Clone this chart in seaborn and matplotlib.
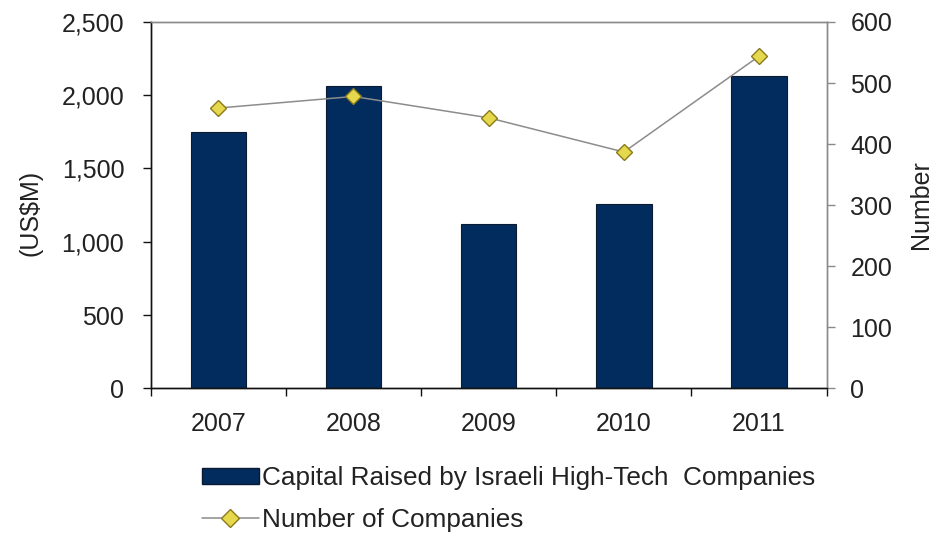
import matplotlib
matplotlib.use("Agg")
import matplotlib.pyplot as plt
from matplotlib.lines import Line2D
from matplotlib.patches import Patch
from matplotlib.ticker import FuncFormatter, FixedLocator, NullFormatter
import seaborn as sns
import pandas as pd

years = ["2007", "2008", "2009", "2010", "2011"]
capital_raised = [1750, 2060, 1120, 1260, 2130]   # US$M
num_companies = [459, 478, 443, 387, 544]

bar_label = "Capital Raised by Israeli High-Tech  Companies"
line_label = "Number of Companies"

sns.set_theme(style="white")
plt.rcParams["font.family"] = ["Liberation Sans", "DejaVu Sans"]

navy = "#032c5e"
yellow = "#e6d84c"
marker_edge = "#8a7a1c"
line_gray = "#8c8c8c"
text_color = "#222222"
fs = 18

df = pd.DataFrame({"year": years, "capital": capital_raised, "companies": num_companies})

fig = plt.figure(figsize=(9.32, 5.36), dpi=100)
ax = fig.add_axes([0.1617, 0.2756, 0.7253, 0.6834])

sns.barplot(data=df, x="year", y="capital", ax=ax, color=navy, saturation=1,
            width=0.41, edgecolor="#0a1a30", linewidth=0.8, zorder=2)
ax.set_ylim(0, 2500)
ax.set_xlim(-0.5, 4.5)
ax.set_yticks([0, 500, 1000, 1500, 2000, 2500])
ax.yaxis.set_major_formatter(FuncFormatter(lambda v, p: f"{int(v):,}"))
ax.set_xlabel("")
ax.set_ylabel("")

ax2 = ax.twinx()
sns.pointplot(data=df, x="year", y="companies", ax=ax2, color=line_gray,
              markers="D", linestyles="-", markersize=8, linewidth=1.1, zorder=3)
for ln in ax2.lines:
    ln.set_markerfacecolor(yellow)
    ln.set_markeredgecolor(marker_edge)
    ln.set_markeredgewidth(1.0)
ax2.set_ylim(0, 600)
ax2.set_xlim(-0.5, 4.5)
ax2.set_yticks([0, 100, 200, 300, 400, 500, 600])
ax2.set_xlabel("")
ax2.set_ylabel("")

# Axis titles
fig.text(31 / 932, 1 - 213 / 536, "(US\\$M)", rotation=90, ha="center", va="center",
         fontsize=fs, color=text_color)
fig.text(921 / 932, 1 - 205 / 536, "Number", rotation=90, ha="center", va="center",
         fontsize=fs, color=text_color)

# Spines: black left/bottom, gray top/right
for a in (ax, ax2):
    a.spines["left"].set_color("#111111")
    a.spines["bottom"].set_color("#111111")
    a.spines["top"].set_color("#8a8a8a")
    a.spines["right"].set_color("#8a8a8a")
    for s in a.spines.values():
        s.set_linewidth(1.0)
        s.set_visible(True)

# category boundary ticks on the x axis, labels at the centres
ax.xaxis.set_major_locator(FixedLocator(range(len(years))))
ax.set_xticklabels(years)
ax.xaxis.set_minor_locator(FixedLocator([i - 0.5 for i in range(len(years) + 1)]))
ax.xaxis.set_minor_formatter(NullFormatter())
ax.tick_params(axis="x", which="major", length=0, pad=17, labelsize=fs, labelcolor=text_color)
ax.tick_params(axis="x", which="minor", bottom=True, length=6, width=1, color="#111111", direction="out")
ax.tick_params(axis="y", left=True, length=6, width=1, color="#111111", direction="out",
               pad=13, labelsize=fs, labelcolor=text_color)
ax2.tick_params(axis="y", right=True, length=6, width=1, color="#8a8a8a", direction="out",
                pad=11, labelsize=fs, labelcolor=text_color)
ax2.tick_params(axis="x", which="both", bottom=False, top=False, labelbottom=False)

handles = [
    Patch(facecolor=navy, edgecolor="#0a1a30", label=bar_label),
    Line2D([0], [0], color=line_gray, lw=1.1, marker="D", markersize=9,
           markerfacecolor=yellow, markeredgecolor=marker_edge, label=line_label),
]
fig.legend(handles=handles, loc="center left", bbox_to_anchor=(201.7 / 932, 1 - 499 / 536),
           frameon=False, fontsize=18.8, handlelength=2.2, handleheight=0.55,
           handletextpad=0.12, labelspacing=0.68, borderaxespad=0, borderpad=0,
           labelcolor=text_color)

fig.savefig("out.png", dpi=100, facecolor="white")
